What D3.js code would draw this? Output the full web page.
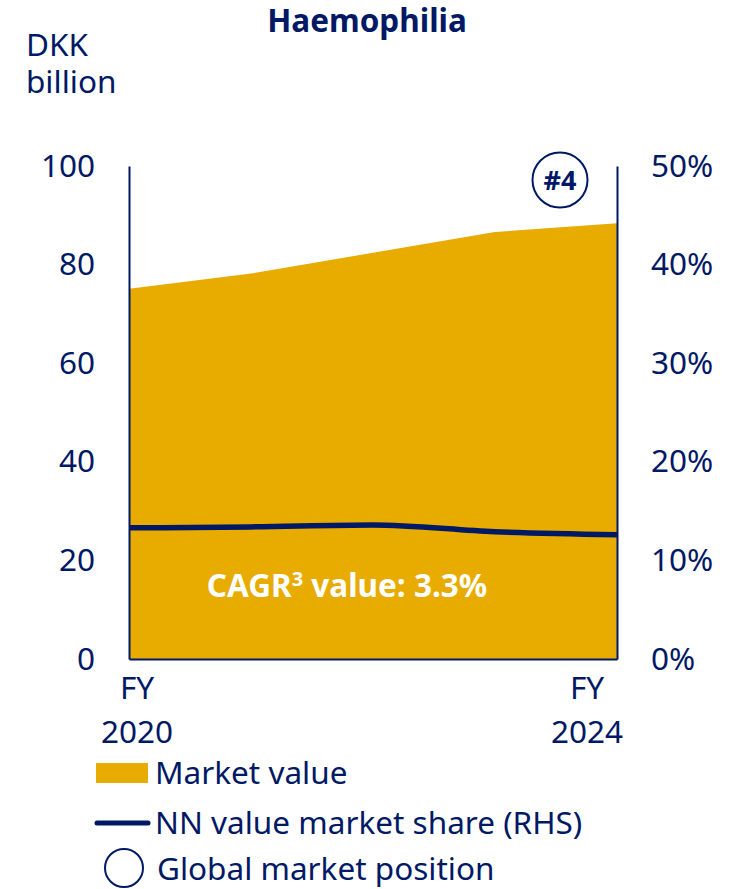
<!DOCTYPE html>
<html>
<head>
<meta charset="utf-8">
<script src="https://cdn.jsdelivr.net/npm/d3@7"></script>
<style>
  body { margin: 0; background: #fff; }
  svg { display: block; font-family: "Noto Sans", "Open Sans", sans-serif; }
</style>
</head>
<body>
<div id="chart"></div>
<script>
const years = [2020, 2021, 2022, 2023, 2024];
const marketValue = [75.1, 78.2, 82.4, 86.6, 88.4];   // DKK billion
const nnShare = [0.133, 0.134, 0.136, 0.129, 0.126];  // RHS
const leftTicks = [0, 20, 40, 60, 80, 100];
const rightTicks = [0, 0.1, 0.2, 0.3, 0.4, 0.5];
const xLabels = { 2020: ["FY", "2020"], 2024: ["FY", "2024"] };

const W = 745, H = 889;
const navy = "#001965", gold = "#E8AB00";
const fs = 31.5;
const plot = { left: 129, right: 617, top: 166, bottom: 659 };

const svg = d3.select("#chart").append("svg")
    .attr("width", W)
    .attr("height", H);

const x = d3.scalePoint().domain(years).range([plot.left, plot.right]);
const yL = d3.scaleLinear().domain([0, 100]).range([plot.bottom, plot.top]);
const yR = d3.scaleLinear().domain([0, 0.5]).range([plot.bottom, plot.top]);

// title + unit
svg.append("text")
    .attr("x", 367).attr("y", 32)
    .attr("text-anchor", "middle")
    .attr("font-size", fs).attr("font-weight", 700)
    .attr("fill", navy)
    .text("Haemophilia");

const unit = svg.append("text")
    .attr("x", 26).attr("y", 56)
    .attr("font-size", fs).attr("fill", navy);
unit.append("tspan").attr("x", 26).text("DKK");
unit.append("tspan").attr("x", 26).attr("dy", 37).text("billion");

// market value area
const area = d3.area()
    .x((d, i) => x(years[i]))
    .y0(yL(0))
    .y1(d => yL(d));

svg.append("path")
    .datum(marketValue)
    .attr("d", area)
    .attr("fill", gold);

// NN share line
const line = d3.line()
    .x((d, i) => x(years[i]))
    .y(d => yR(d))
    .curve(d3.curveMonotoneX);

svg.append("path")
    .datum(nnShare)
    .attr("d", line)
    .attr("fill", "none")
    .attr("stroke", navy)
    .attr("stroke-width", 5.5);

// axes
const leftAxis = svg.append("g")
    .attr("transform", `translate(${plot.left},0)`)
    .call(d3.axisLeft(yL).tickValues(leftTicks).tickSize(0).tickPadding(34));

const rightAxis = svg.append("g")
    .attr("transform", `translate(${plot.right},0)`)
    .call(d3.axisRight(yR).tickValues(rightTicks).tickSize(0).tickPadding(34)
        .tickFormat(d3.format(".0%")));

const bottomAxis = svg.append("g")
    .attr("transform", `translate(0,${plot.bottom})`)
    .call(d3.axisBottom(x).tickSize(0).tickFormat(""));

[leftAxis, rightAxis, bottomAxis].forEach(g => {
    g.select(".domain").attr("stroke", navy).attr("stroke-width", 2);
    g.selectAll("text")
        .attr("font-family", "Noto Sans, Open Sans, sans-serif")
        .attr("font-size", fs)
        .attr("fill", navy);
});

// two-line year labels
const xl = svg.append("g").attr("fill", navy).attr("font-size", fs);
Object.entries(xLabels).forEach(([yr, lines]) => {
    const shift = +yr === years[0] ? 8 : -30;
    const t = xl.append("text")
        .attr("text-anchor", "middle")
        .attr("x", x(+yr) + shift)
        .attr("y", 699);
    lines.forEach((s, i) => {
        t.append("tspan")
            .attr("x", x(+yr) + shift)
            .attr("dy", i === 0 ? 0 : 44)
            .text(s);
    });
});

// CAGR note
const cagr = svg.append("text")
    .attr("x", 347).attr("y", 597)
    .attr("text-anchor", "middle")
    .attr("font-size", fs).attr("font-weight", 700)
    .attr("fill", "#fff");
cagr.append("tspan").text("CAGR");
cagr.append("tspan").attr("font-size", 20).attr("dy", -11).text("3");
cagr.append("tspan").attr("dy", 11).text(" value: 3.3%");

// global position badge
svg.append("circle")
    .attr("cx", 560).attr("cy", 180).attr("r", 27.5)
    .attr("fill", "#fff").attr("stroke", navy).attr("stroke-width", 2);
svg.append("text")
    .attr("x", 560).attr("y", 190)
    .attr("text-anchor", "middle")
    .attr("font-size", 27).attr("font-weight", 700)
    .attr("fill", navy)
    .text("#4");

// legend
const lg = svg.append("g").attr("font-size", fs).attr("fill", navy);
lg.append("rect").attr("x", 96).attr("y", 763).attr("width", 52).attr("height", 20).attr("fill", gold);
lg.append("text").attr("x", 155).attr("y", 784).text("Market value");
lg.append("line")
    .attr("x1", 97).attr("x2", 148).attr("y1", 823).attr("y2", 823)
    .attr("stroke", navy).attr("stroke-width", 5).attr("stroke-linecap", "round");
lg.append("text").attr("x", 155).attr("y", 834).text("NN value market share (RHS)");
lg.append("circle").attr("cx", 124).attr("cy", 868).attr("r", 19)
    .attr("fill", "#fff").attr("stroke", navy).attr("stroke-width", 2);
lg.append("text").attr("x", 157).attr("y", 880).text("Global market position");
</script>
</body>
</html>
